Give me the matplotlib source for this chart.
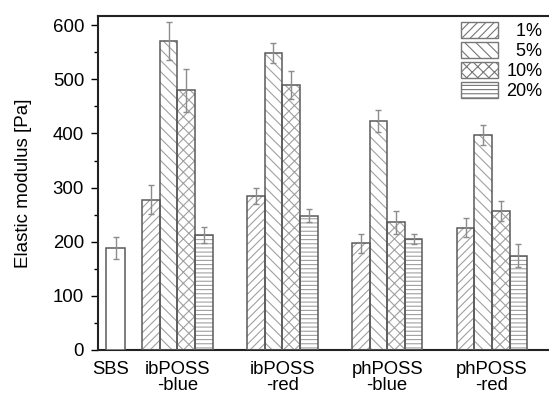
"""Elastic modulus of SBS and POSS-filled blends at 1-20 % loading."""

import matplotlib.pyplot as plt
import numpy as np
from matplotlib.patches import Patch

plt.rcParams["font.family"] = ["Liberation Sans", "DejaVu Sans"]
plt.rcParams["hatch.linewidth"] = 0.8

samples = ["ibPOSS\n-blue", "ibPOSS\n-red", "phPOSS\n-blue", "phPOSS\n-red"]
loadings = ["1%", "5%", "10%", "20%"]

sbs_modulus = 189
sbs_err = 20

# rows = loading, columns = sample
modulus = np.array([
    [278, 284, 197, 226],
    [571, 549, 423, 397],
    [480, 489, 236, 257],
    [212, 248, 205, 174],
])
modulus_err = np.array([
    [26, 15, 18, 17],
    [35, 18, 21, 18],
    [40, 26, 21, 19],
    [15, 12, 10, 21],
])

hatches = ["////", "\\\\\\", "xxx", "----"]
# figure spaces keep the percent signs lined up on the right
legend_labels = ["\u2007" * (3 - len(s)) + s for s in loadings]

HATCH_C = "#a0a0a0"
EDGE_C = "#5a5a5a"
ERR_C = "#8c8c8c"


def hatched_bar(ax, x, h, w, hatch):
    """Light hatch fill with a darker outline on top."""
    ax.bar(x, h, w, color="white", edgecolor=HATCH_C, linewidth=0,
           hatch=hatch, zorder=2)
    ax.bar(x, h, w, fill=False, edgecolor=EDGE_C, linewidth=1.1, zorder=3)


fig = plt.figure(figsize=(5.49, 3.97), dpi=100)
ax = fig.add_axes([0.1785, 0.1184, 0.85, 0.8413])

width = 0.168
centers = np.arange(1, len(samples) + 1)
sbs_x = 0.41

ax.bar(sbs_x, sbs_modulus, 0.18, color="white", edgecolor=EDGE_C,
       linewidth=1.1, zorder=3)
ax.errorbar(sbs_x, sbs_modulus, yerr=sbs_err, fmt="none", ecolor=ERR_C,
            elinewidth=1, capsize=2.5, zorder=4)

for i, hatch in enumerate(hatches):
    xs = centers + (i - 1.5) * width
    hatched_bar(ax, xs, modulus[i], width, hatch)
    ax.errorbar(xs, modulus[i], yerr=modulus_err[i], fmt="none",
                ecolor=ERR_C, elinewidth=1, capsize=2.5, zorder=4)

ax.set_xlim(0.2426, 4.693)
ax.set_ylim(0, 617)
ax.set_xticks([0.365] + list(centers))
ax.set_xticklabels(["SBS"] + samples, fontsize=13.3, linespacing=0.95)
ax.tick_params(axis="x", length=0, pad=8)
ax.set_yticks(range(0, 601, 100))
ax.set_yticks(range(50, 601, 100), minor=True)
ax.tick_params(axis="y", which="major", length=5, width=1, labelsize=13.4,
               pad=5)
ax.tick_params(axis="y", which="minor", length=3, width=1)
ax.set_ylabel("Elastic modulus [Pa]", fontsize=13.5, labelpad=15)

for side in ["left", "bottom", "top"]:
    ax.spines[side].set_linewidth(1.5)
    ax.spines[side].set_color("#222222")
ax.spines["right"].set_visible(False)

handles = [Patch(facecolor="white", edgecolor="#777777", hatch=h,
                 linewidth=1) for h in hatches]
fig.legend(handles, legend_labels, loc="upper left",
           bbox_to_anchor=(461 / 549, 1 - 22 / 397), frameon=False,
           fontsize=13, handlelength=2.05, handleheight=1.0,
           handletextpad=0.45, labelspacing=0.1, borderpad=0,
           borderaxespad=0)

fig.savefig("out.png", dpi=100)
